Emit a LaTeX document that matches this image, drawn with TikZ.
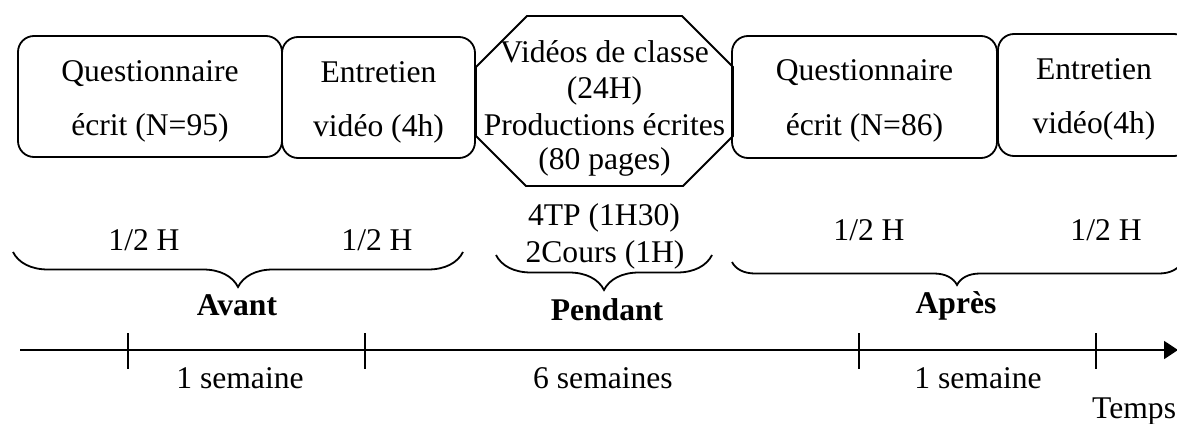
\documentclass[tikz,border=0pt]{standalone}
\usepackage{fontspec}
\setmainfont{Liberation Serif}
\usetikzlibrary{arrows.meta,decorations.pathreplacing}

\begin{document}
\begin{tikzpicture}[x=1pt,y=-1pt,
  txt/.style={font=\fontsize{31.6pt}{38pt}\selectfont, inner sep=0pt, anchor=base},
  phase/.style={txt, font=\fontsize{31.6pt}{38pt}\selectfont\bfseries},
  stage/.style={draw, line width=1.8pt, rounded corners=16pt, inner sep=0pt},
  bracecurve/.style={decorate, decoration={brace, mirror, amplitude=#1}, line width=1.8pt},
  tickmark/.style={line width=1.8pt},
  axisline/.style={line width=1.8pt, -{Triangle[length=14pt,width=18pt]}}]

% page frame
\path[use as bounding box] (0,0) rectangle (1177,423);
\clip (0,0) rectangle (1177,423);

% ---- data-collection stages ----
\node[stage, minimum width=264pt, minimum height=121pt] (q1) at (150,96.5) {};
\node[txt] (q1a) at (150,81) {Questionnaire};
\node[txt] (q1b) at (150,135) {écrit (N=95)};

\node[stage, minimum width=193pt, minimum height=121pt] (e1) at (378.5,97.5) {};
\node[txt] (e1a) at (378.5,82) {Entretien};
\node[txt] (e1b) at (378.5,136) {vidéo (4h)};

% octagon for the classroom phase
\coordinate (oct) at (604.5,101);
\draw[line width=1.8pt] (527,16) -- (682,16) -- (733,67) -- (733,136) -- (683,186)
  -- (526,186) -- (476,136) -- (476,67) -- cycle;
\node[txt] (o1) at (604.5,62) {Vidéos de classe};
\node[txt] (o2) at (604.5,98.5) {(24H)};
\node[txt] (o3) at (604.5,135) {Productions écrites};
\node[txt] (o4) at (604.5,169) {(80 pages)};

\node[stage, minimum width=265pt, minimum height=122pt] (q2) at (864.5,97) {};
\node[txt] (q2a) at (864.5,80) {Questionnaire};
\node[txt] (q2b) at (864.5,135) {écrit (N=86)};

\node[stage, minimum width=192pt, minimum height=122pt] (e2) at (1094,95) {};
\node[txt] (e2a) at (1094,79) {Entretien};
\node[txt] (e2b) at (1094,133) {vidéo(4h)};

% ---- durations ----
\node[txt] (d1) at (144,250) {1/2 H};
\node[txt] (d2) at (377,250) {1/2 H};
\node[txt] (d3) at (604,225) {4TP (1H30)};
\node[txt] (d4) at (605,262) {2Cours (1H)};
\node[txt] (d5) at (869,240) {1/2 H};
\node[txt] (d6) at (1106,240) {1/2 H};

% ---- braces ----
\coordinate (b1l) at (13,252);  \coordinate (b1r) at (463,252);
\coordinate (b2l) at (496,255); \coordinate (b2r) at (712,255);
\coordinate (b3l) at (732,262); \coordinate (b3r) at (1182,262);
\draw[bracecurve=35pt] (b1l) -- (b1r);
\draw[bracecurve=35pt] (b2l) -- (b2r);
\draw[bracecurve=23pt] (b3l) -- (b3r);

\node[phase] (avant) at (237,315) {Avant};
\node[phase] (pendant) at (607,320) {Pendant};
\node[phase] (apres) at (956,313) {Après};

% ---- time axis ----
\coordinate (ax0) at (20,350);
\coordinate (ax1) at (1178,350);
\draw[axisline] (ax0) -- (ax1);
\foreach \x [count=\i] in {128,365,859,1096} {
  \coordinate (t\i a) at (\x,333);
  \coordinate (t\i b) at (\x,369);
  \draw[tickmark] (t\i a) -- (t\i b);
}

\node[txt] (w1) at (240,388) {1 semaine};
\node[txt] (w2) at (603,388) {6 semaines};
\node[txt] (w3) at (978,388) {1 semaine};
\node[txt, anchor=base west] (temps) at (1092,418) {Temps};

\end{tikzpicture}
\end{document}
